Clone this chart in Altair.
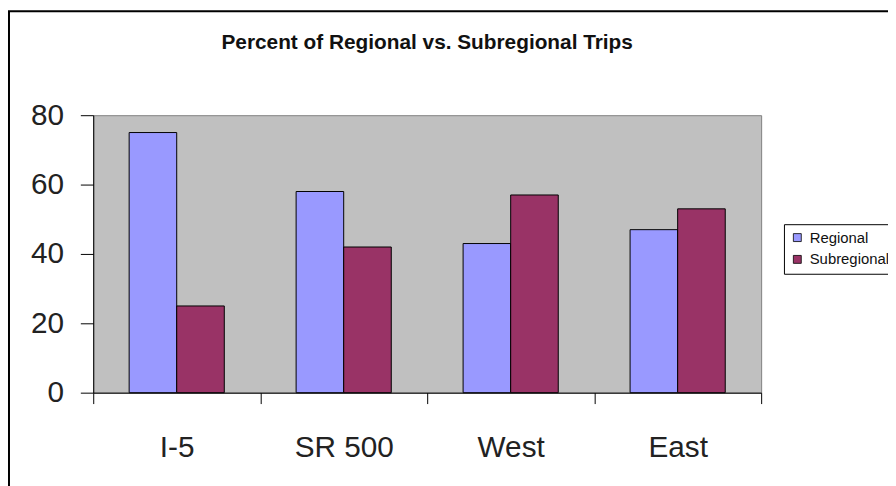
import altair as alt
import pandas as pd

corridors = ["I-5", "SR 500", "West", "East"]
series = ["Regional", "Subregional"]
regional = [75, 58, 43, 47]
subregional = [25, 42, 57, 53]
y_ticks = [0, 20, 40, 60, 80]
colors = ["#9999FF", "#993366"]

rows = []
for c, r, s in zip(corridors, regional, subregional):
    rows.append({"Corridor": c, "Type": "Regional", "Percent": r})
    rows.append({"Corridor": c, "Type": "Subregional", "Percent": s})
df = pd.DataFrame(rows)

FONT = "Liberation Sans"

bars = alt.Chart(df).mark_bar(stroke="black", strokeWidth=1).encode(
    x=alt.X(
        "Corridor:N",
        sort=corridors,
        scale=alt.Scale(paddingInner=0, paddingOuter=0),
        axis=alt.Axis(
            title=None, labelAngle=0, tickBand="extent", tickSize=11,
            labelPadding=29, labelFontSize=30, labelColor="#222222",
            domainColor="black", tickColor="black", labelFont=FONT,
        ),
    ),
    xOffset=alt.XOffset(
        "Type:N", sort=series,
        scale=alt.Scale(paddingInner=0, paddingOuter=0.755),
    ),
    y=alt.Y(
        "Percent:Q",
        scale=alt.Scale(domain=[0, 80], nice=False),
        axis=alt.Axis(
            title=None, values=y_ticks, grid=False, tickSize=13,
            labelPadding=17, labelFontSize=30, labelColor="#222222",
            domainColor="black", tickColor="black", labelFont=FONT,
        ),
    ),
    color=alt.Color(
        "Type:N",
        scale=alt.Scale(domain=series, range=colors),
        legend=alt.Legend(
            title=None, orient="none", legendX=697, legendY=110,
            strokeColor="black", fillColor="white", padding=6,
            symbolType="square", symbolSize=64, symbolStrokeColor="black",
            symbolStrokeWidth=0.8, labelFontSize=15, labelFont=FONT,
            labelColor="#111111", rowPadding=6, labelOffset=5,
        ),
    ),
)

border = alt.Chart(pd.DataFrame({"k": [0]})).mark_rect(
    fill="white", fillOpacity=0, stroke="black", strokeWidth=2
).encode(
    x=alt.value(-85), x2=alt.value(900),
    y=alt.value(-105), y2=alt.value(500),
)

chart = alt.layer(border, bars).properties(
    width=674,
    height=280,
    title=alt.TitleParams(
        "Percent of Regional vs. Subregional Trips",
        fontSize=21, fontWeight="bold", font=FONT, anchor="middle",
        offset=-43, color="#111111",
    ),
    autosize=alt.AutoSizeParams(type="none"),
    padding={"left": 86, "top": 106, "right": 128, "bottom": 92},
    background="white",
).configure_view(
    fill="#C0C0C0", stroke="#808080", strokeWidth=1
)

chart.save("out.html", embed_options={"renderer": "svg", "actions": False})
